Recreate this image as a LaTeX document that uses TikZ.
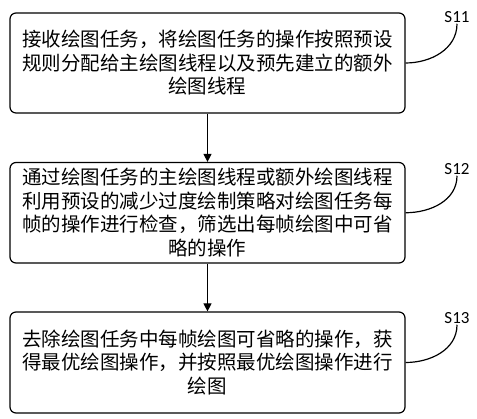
\documentclass[tikz,border=0pt]{standalone}
\usepackage{fontspec}
\newfontfamily\cjk{Noto Sans CJK SC}
\newfontfamily\lbl{Carlito}
\usetikzlibrary{arrows.meta}
\begin{document}
\begin{tikzpicture}[x=1pt,y=1pt,
  stepbox/.style={draw, line width=1.2pt, rounded corners=6pt, minimum width=395pt, inner sep=0pt,
    align=center, font=\cjk\fontsize{19.5pt}{23.5pt}\selectfont},
  steplbl/.style={font=\lbl\fontsize{17pt}{19pt}\selectfont, inner sep=1pt},
  flow/.style={line width=1.2pt, -{Triangle[length=8pt,width=8pt]}},
  lead/.style={line width=1.2pt}]
\useasboundingbox (0,0) rectangle (477,419);
\node[stepbox, minimum height=100pt] (b1) at (207.5,356) {接收绘图任务，将绘图任务的操作按照预设\\规则分配给主绘图线程以及预先建立的额外\\绘图线程};
\node[stepbox, minimum height=100.5pt] (b2) at (207.5,206.25) {通过绘图任务的主绘图线程或额外绘图线程\\利用预设的减少过度绘制策略对绘图任务每\\帧的操作进行检查，筛选出每帧绘图中可省\\略的操作};
\node[stepbox, minimum height=101pt] (b3) at (207.5,56.5) {去除绘图任务中每帧绘图可省略的操作，获\\得最优绘图操作，并按照最优绘图操作进行\\绘图};
\node[steplbl] (l1) at (457,402) {S11};
\node[steplbl] (l2) at (457,250) {S12};
\node[steplbl] (l3) at (457,101) {S13};
\draw[flow] (b1.south) -- (b2.north);
\draw[flow] (b2.south) -- (b3.north);
\draw[lead] (b1.east) to[out=0,in=-90] (l1.south);
\draw[lead] (b2.east) to[out=0,in=-90] (l2.south);
\draw[lead] (b3.east) to[out=0,in=-90] (l3.south);
\end{tikzpicture}
\end{document}
